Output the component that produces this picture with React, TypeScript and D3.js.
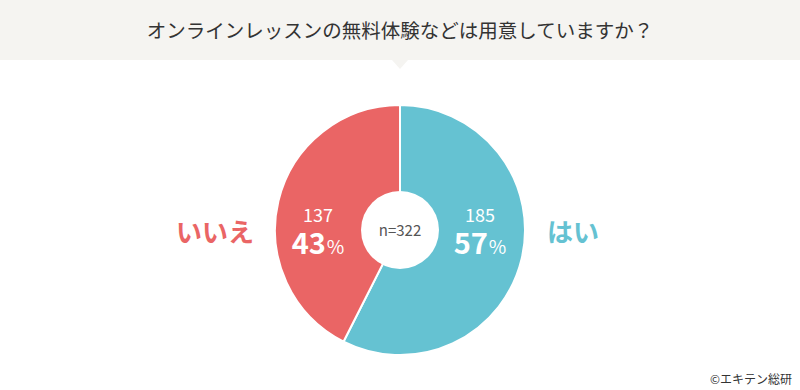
import * as d3 from "d3";
import React from "react";

// data
const labels = ["はい", "いいえ"];
const counts = [185, 137];
const percents = [57, 43];
const colors = ["#65c2d2", "#ea6565"];
const title = "オンラインレッスンの無料体験などは用意していますか？";
const total = 322;

const W = 800;
const H = 390;
const font = "'Noto Sans CJK JP', 'Noto Sans', sans-serif";

export default function App() {
  const cx = 400;
  const cy = 230;
  const r = 125;

  const pie = d3.pie<number>().sort(null).value((d) => d);
  const arcs = pie(counts);
  const arc = d3.arc<d3.PieArcDatum<number>>().innerRadius(0).outerRadius(r);

  // label positions
  const numX = [480, 318];
  const nameX = [573, 215];

  return (
    <svg width={W} height={H} style={{ position: "absolute", left: 0, top: 0 }}>
      <rect x={0} y={0} width={W} height={60} fill="#f5f4f1" />
      <path d="M392,60 L408,60 L400,69 Z" fill="#f5f4f1" />
      <text x={400} y={38} textAnchor="middle" fontFamily={font} fontSize={19.5} fill="#333">
        {title}
      </text>

      <g transform={`translate(${cx},${cy})`}>
        {arcs.map((a, i) => (
          <path key={i} d={arc(a) || ""} fill={colors[i]} stroke="#fff" strokeWidth={2} />
        ))}
        <circle r={39} fill="#fff" />
        <text y={6} textAnchor="middle" fontFamily={font} fontSize={15} fill="#555">
          n={total}
        </text>
      </g>

      {labels.map((l, i) => (
        <g key={i}>
          <text x={numX[i]} y={222} textAnchor="middle" fontFamily={font} fontSize={18} fill="#fff">
            {counts[i]}
          </text>
          <text x={numX[i]} y={254} textAnchor="middle" fontFamily={font} fill="#fff">
            <tspan fontSize={29} fontWeight="bold">{percents[i]}</tspan>
            <tspan fontSize={19} dx={1}>%</tspan>
          </text>
          <text x={nameX[i]} y={242} textAnchor="middle" fontFamily={font} fontSize={26} fontWeight="bold" fill={colors[i]}>
            {l}
          </text>
        </g>
      ))}

      <text x={792} y={384} textAnchor="end" fontFamily={font} fontSize={12} fill="#333">
        ©エキテン総研
      </text>
    </svg>
  );
}
